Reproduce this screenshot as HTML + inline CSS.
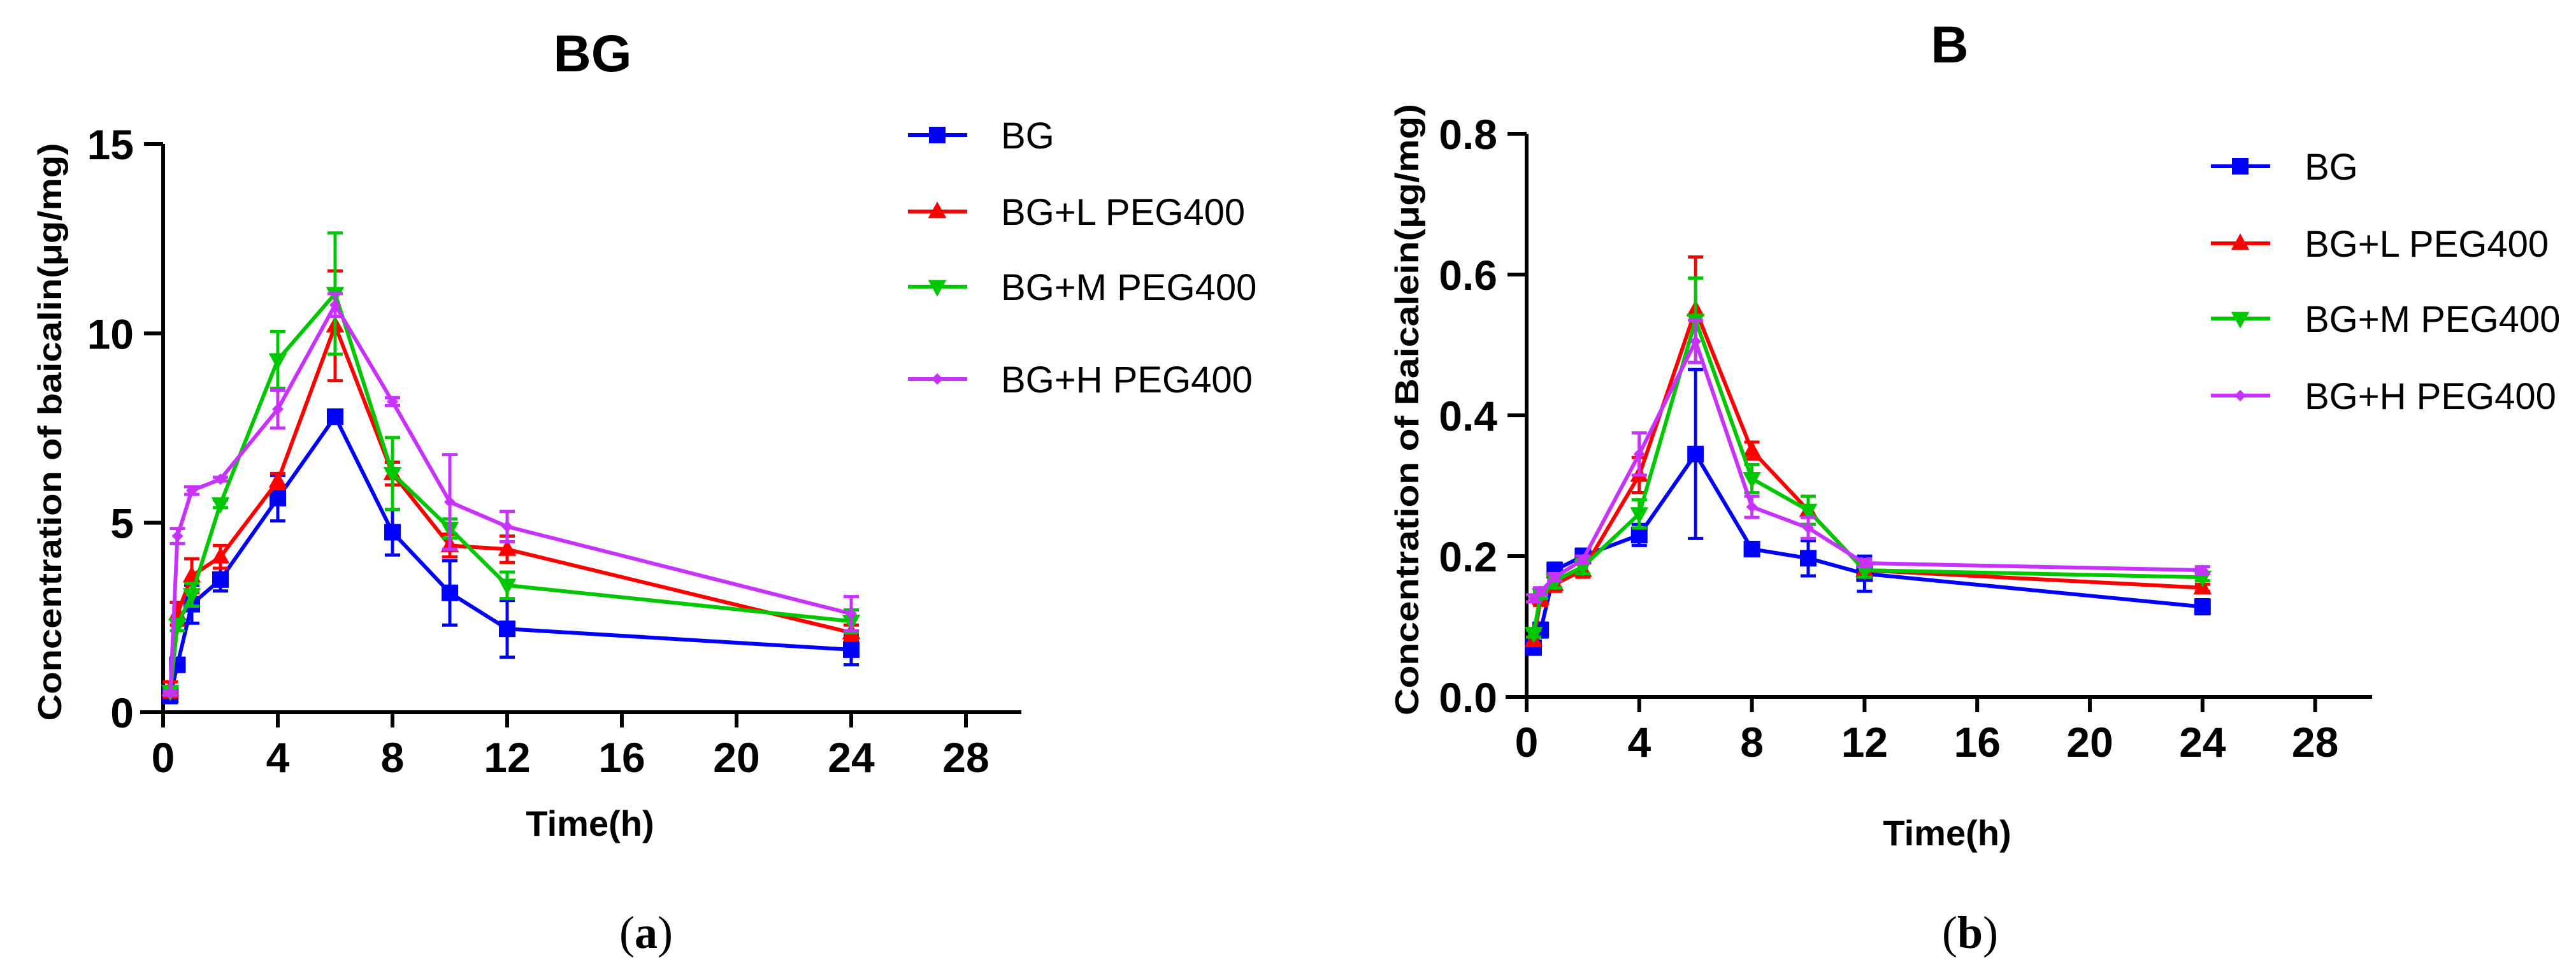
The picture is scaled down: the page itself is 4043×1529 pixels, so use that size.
<!DOCTYPE html>
<html><head><meta charset="utf-8"><style>
html,body{margin:0;padding:0;background:#fff;}
svg{display:block;}
text{font-family:"Liberation Sans",Arial,sans-serif;}
</style></head><body>
<svg id="fig" width="4043" height="1529" viewBox="0 0 4043 1529" xmlns="http://www.w3.org/2000/svg"></svg>
<script>
const times = [0.25, 0.5, 1, 2, 4, 6, 8, 10, 12, 24];
const xTicks = [0, 4, 8, 12, 16, 20, 24, 28];
const seriesNames = ["BG", "BG+L PEG400", "BG+M PEG400", "BG+H PEG400"];

const aTicks = [0, 5, 10, 15];
const aBG = [0.45, 1.25, 2.85, 3.5, 5.65, 7.8, 4.75, 3.15, 2.2, 1.65];
const aBGerr = [0.2, 0.15, 0.5, 0.3, 0.6, 0.1, 0.6, 0.85, 0.75, 0.4];
const aL = [0.6, 2.6, 3.6, 4.1, 6.1, 10.2, 6.3, 4.4, 4.3, 2.1];
const aLerr = [0.2, 0.3, 0.45, 0.3, 0.2, 1.45, 0.3, 0.3, 0.35, 0.2];
const aM = [0.55, 2.3, 3.1, 5.5, 9.3, 11.05, 6.3, 4.85, 3.35, 2.4];
const aMerr = [0.1, 0.15, 0.3, 0.1, 0.75, 1.6, 0.95, 0.25, 0.35, 0.3];
const aH = [0.5, 4.65, 5.85, 6.15, 8.0, 10.75, 8.2, 5.55, 4.9, 2.6];
const aHerr = [0.05, 0.2, 0.1, 0.05, 0.5, 0.3, 0.1, 1.25, 0.4, 0.45];

const bTicks = [0.0, 0.2, 0.4, 0.6, 0.8];
const bBG = [0.07, 0.095, 0.18, 0.2, 0.23, 0.345, 0.21, 0.197, 0.175, 0.128];
const bBGerr = [0.005, 0.01, 0.01, 0.01, 0.015, 0.12, 0.005, 0.025, 0.025, 0.01];
const bL = [0.08, 0.14, 0.16, 0.18, 0.315, 0.55, 0.35, 0.265, 0.18, 0.155];
const bLerr = [0.005, 0.01, 0.01, 0.01, 0.025, 0.075, 0.012, 0.02, 0.01, 0.005];
const bM = [0.09, 0.145, 0.165, 0.185, 0.26, 0.535, 0.31, 0.265, 0.18, 0.17];
const bMerr = [0.005, 0.005, 0.01, 0.01, 0.02, 0.06, 0.02, 0.02, 0.01, 0.005];
const bH = [0.14, 0.15, 0.17, 0.195, 0.345, 0.505, 0.27, 0.24, 0.19, 0.18];
const bHerr = [0.005, 0.005, 0.005, 0.005, 0.03, 0.03, 0.015, 0.015, 0.005, 0.005];

const colors = ["#0000ff", "#ff0000", "#00c800", "#c832ff"];
const markers = ["square", "up", "down", "diamond"];
const NS = "http://www.w3.org/2000/svg";
const svg = document.getElementById("fig");

function mk(tag, attrs, parent) {
  const e = document.createElementNS(NS, tag);
  for (const k in attrs) e.setAttribute(k, attrs[k]);
  (parent || svg).appendChild(e);
  return e;
}
function marker(g, type, cx, cy, col, s) {
  let e;
  if (type === "square") e = mk("rect", {x: cx - s, y: cy - s, width: 2 * s, height: 2 * s, fill: col}, g);
  else if (type === "up") e = mk("polygon", {points: `${cx},${cy - s * 1.2} ${cx - s * 1.1},${cy + s * 0.8} ${cx + s * 1.1},${cy + s * 0.8}`, fill: col}, g);
  else if (type === "down") e = mk("polygon", {points: `${cx},${cy + s * 1.2} ${cx - s * 1.1},${cy - s * 0.8} ${cx + s * 1.1},${cy - s * 0.8}`, fill: col}, g);
  else e = mk("polygon", {points: `${cx},${cy - s * 0.9} ${cx + s * 0.9},${cy} ${cx},${cy + s * 0.9} ${cx - s * 0.9},${cy}`, fill: col}, g);
  
  
  return e;
}

function chart(cfg) {
  const g = mk("g", {});
  
  
  const X = v => cfg.x0 + v * cfg.xs;
  const Y = v => cfg.y0 - (v - cfg.ticks[0]) / (cfg.ticks[cfg.ticks.length - 1] - cfg.ticks[0]) * (cfg.y0 - cfg.yTop);

  const t = mk("text", {x: cfg.titleX, y: cfg.titleY, "font-size": 82, "font-weight": "bold", "text-anchor": "middle"}, g);
  t.textContent = cfg.title;
  
  

  const ya = mk("line", {x1: cfg.x0, y1: cfg.yTop, x2: cfg.x0, y2: cfg.y0 + 3, stroke: "#000", "stroke-width": 6}, g);
  
  
  const xa = mk("line", {x1: cfg.xStart, y1: cfg.y0, x2: cfg.xEnd, y2: cfg.y0, stroke: "#000", "stroke-width": 6}, g);
  
  

  cfg.ticks.forEach(v => {
    const y = Y(v);
    const tk = mk("line", {x1: cfg.x0 - 30, y1: y, x2: cfg.x0, y2: y, stroke: "#000", "stroke-width": 6}, g);
    
    
    const lb = mk("text", {x: cfg.x0 - 46, y: y + 24, "font-size": 66, "font-weight": "bold", "text-anchor": "end"}, g);
    lb.textContent = cfg.tickFmt(v);
    
    
  });
  xTicks.forEach(v => {
    const x = X(v);
    const tk = mk("line", {x1: x, y1: cfg.y0, x2: x, y2: cfg.y0 + 24, stroke: "#000", "stroke-width": 6}, g);
    
    
    const lb = mk("text", {x: x, y: cfg.y0 + 94, "font-size": 66, "font-weight": "bold", "text-anchor": "middle"}, g);
    lb.textContent = String(v);
    
    
  });

  const xt = mk("text", {x: cfg.xTitleX, y: cfg.xTitleY, "font-size": 56, "font-weight": "bold", "text-anchor": "middle"}, g);
  xt.textContent = "Time(h)";
  
  
  const yt = mk("text", {x: 0, y: 0, "font-size": 52, "font-weight": "bold", "text-anchor": "middle",
    transform: `translate(${cfg.yTitleX},${cfg.yTitleY}) rotate(-90)`, textLength: cfg.yTitleLen, lengthAdjust: "spacingAndGlyphs"}, g);
  yt.textContent = cfg.yTitle;
  
  

  cfg.series.forEach((vals, si) => {
    const errs = cfg.errs[si];
    const col = colors[si];
    const sg = mk("g", {}, g);
    
    
    const pts = times.map((tv, i) => `${X(tv)},${Y(vals[i])}`).join(" ");
    const pl = mk("polyline", {points: pts, fill: "none", stroke: col, "stroke-width": 6, "stroke-linejoin": "round"}, sg);
    
    
    times.forEach((tv, i) => {
      const x = X(tv), y1 = Y(vals[i] + errs[i]), y2 = Y(vals[i] - errs[i]);
      const eb = mk("path", {d: `M${x},${y1}V${y2}M${x - 12},${y1}H${x + 12}M${x - 12},${y2}H${x + 12}`, stroke: col, "stroke-width": 5, fill: "none"}, sg);
      
      
      marker(sg, markers[si], x, Y(vals[i]), col, si === 3 ? 10 : 13);
    });
  });

  seriesNames.forEach((n, si) => {
    const lg = mk("g", {}, g);
    
    
    const y = cfg.legY[si];
    mk("line", {x1: cfg.legX, y1: y, x2: cfg.legX + 93, y2: y, stroke: colors[si], "stroke-width": 6}, lg);
    marker(lg, markers[si], cfg.legX + 46, y, colors[si], si === 3 ? 10 : 13);
    const tx = mk("text", {x: cfg.legTextX, y: y + 21, "font-size": 58}, lg);
    tx.textContent = n;
    
    
  });

  const cap = mk("text", {x: cfg.capX, y: 1488, "font-size": 72, "text-anchor": "middle", style: "font-family:'Liberation Serif',serif"}, g);
  cap.innerHTML = '(<tspan font-weight="bold">' + cfg.capLetter + '</tspan>)';
  
  
}

chart({
  name: "chart-a", title: "BG", titleX: 930, titleY: 112,
  x0: 256, xs: 45, y0: 1118, yTop: 226, xStart: 220, xEnd: 1603,
  ticks: aTicks, tickFmt: v => String(v),
  xTitleX: 926, xTitleY: 1312, yTitleX: 96, yTitleY: 678, yTitleLen: 907,
  yTitle: "Concentration of baicalin(μg/mg)",
  series: [aBG, aL, aM, aH], errs: [aBGerr, aLerr, aMerr, aHerr],
  legX: 1425, legTextX: 1571, legY: [212, 332, 450, 595],
  capX: 1014, capLetter: "a"
});
chart({
  name: "chart-b", title: "B", titleX: 3060, titleY: 98,
  x0: 2396, xs: 44.2, y0: 1094, yTop: 210, xStart: 2363, xEnd: 3723,
  ticks: bTicks, tickFmt: v => v.toFixed(1),
  xTitleX: 3056, xTitleY: 1327, yTitleX: 2226, yTitleY: 643, yTitleLen: 960,
  yTitle: "Concentration of Baicalein(μg/mg)",
  series: [bBG, bL, bM, bH], errs: [bBGerr, bLerr, bMerr, bHerr],
  legX: 3470, legTextX: 3617, legY: [261, 382, 500, 621],
  capX: 3092, capLetter: "b"
});
</script>
</body></html>
